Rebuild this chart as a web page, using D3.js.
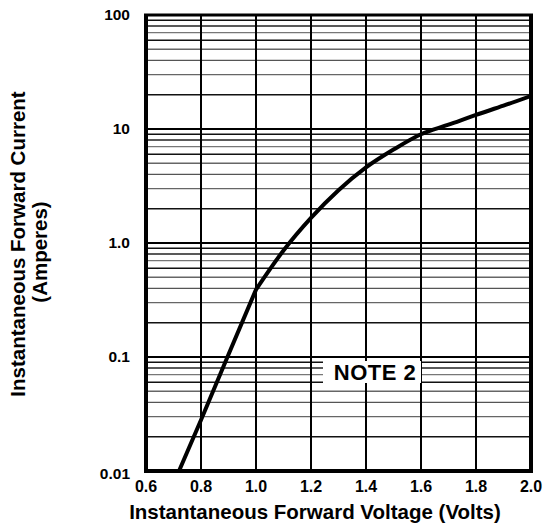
<!DOCTYPE html>
<html>
<head>
<meta charset="utf-8">
<script src="https://cdn.jsdelivr.net/npm/d3@7"></script>
<style>
  body { margin: 0; background: #fff; }
  text { font-family: "Liberation Sans", Arial, sans-serif; font-weight: bold; fill: #000; }
</style>
</head>
<body>
<div id="chart"></div>
<script>
// forward voltage (V) vs forward current (A)
var voltage = [0.72, 0.8, 0.9, 1.0, 1.1, 1.2, 1.3, 1.4, 1.5, 1.6, 1.7, 1.8, 1.9, 2.0];
var current = [0.01, 0.028, 0.105, 0.39, 0.86, 1.66, 2.9, 4.6, 6.6, 9.0, 10.9, 13.3, 16.0, 19.5];

var xTicks = [0.6, 0.8, 1.0, 1.2, 1.4, 1.6, 1.8, 2.0];
var yTicks = [0.01, 0.1, 1, 10, 100];
var yTickLabels = ["0.01", "0.1", "1.0", "10", "100"];
var minorMult = [2, 3, 4, 5, 6, 7, 8, 9];
var minorColor = ["#111", "#666", "#555", "#666", "#111", "#777", "#222", "#111"];

var width = 545,
    height = 527;

var svg = d3.select("#chart").append("svg")
    .attr("width", width)
    .attr("height", height);

var x = d3.scaleLinear().domain([0.6, 2.0]).range([146, 531]);
var y = d3.scaleLog().domain([0.01, 100]).range([471, 15]);

var grid = svg.append("g");

// minor horizontal lines
yTicks.slice(0, 4).forEach(function(d){
  minorMult.forEach(function(m, i){
    grid.append("line")
        .attr("x1", x(0.6)).attr("x2", x(2.0))
        .attr("y1", y(d * m)).attr("y2", y(d * m))
        .attr("stroke", minorColor[i])
        .attr("stroke-width", 1.4);
  });
});

// decade lines
grid.selectAll(".decade").data(yTicks.slice(1, 4)).enter().append("line")
    .attr("x1", x(0.6)).attr("x2", x(2.0))
    .attr("y1", function(d){ return y(d); })
    .attr("y2", function(d){ return y(d); })
    .attr("stroke", "#000")
    .attr("stroke-width", 2);

// vertical lines
grid.selectAll(".vline").data(xTicks.slice(1, -1)).enter().append("line")
    .attr("x1", function(d){ return x(d); })
    .attr("x2", function(d){ return x(d); })
    .attr("y1", y(100)).attr("y2", y(0.01))
    .attr("stroke", "#000")
    .attr("stroke-width", 2);

// note box
svg.append("rect")
    .attr("x", 323).attr("y", 361)
    .attr("width", 98).attr("height", 22)
    .attr("fill", "#fff");
svg.append("text")
    .attr("x", 375).attr("y", 380)
    .attr("text-anchor", "middle")
    .style("font-size", "22px")
    .style("letter-spacing", "0.5px")
    .text("NOTE 2");

// curve: straight below 1.0 V, bending above
svg.append("defs").append("clipPath").attr("id", "clip")
  .append("rect")
    .attr("x", x(0.6)).attr("y", y(100))
    .attr("width", x(2.0) - x(0.6)).attr("height", y(0.01) - y(100));

var pts = voltage.map(function(v, i){ return [x(v), y(current[i])]; });
var knee = voltage.indexOf(1.0);

var lower = d3.line();
var upper = d3.line().curve(d3.curveMonotoneX);

var curve = svg.append("g").attr("clip-path", "url(#clip)");
curve.append("path")
    .attr("d", lower(pts.slice(0, knee + 1)) + upper(pts.slice(knee)).replace(/^M[^LC]*/, ""))
    .attr("fill", "none")
    .attr("stroke", "#000")
    .attr("stroke-width", 4)
    .attr("stroke-linejoin", "round");

// frame
svg.append("line").attr("x1", x(0.6) - 2).attr("x2", x(2.0) + 2)
    .attr("y1", y(100)).attr("y2", y(100))
    .attr("stroke", "#000").attr("stroke-width", 3);
svg.append("line").attr("x1", x(0.6) - 2).attr("x2", x(2.0) + 2)
    .attr("y1", y(0.01)).attr("y2", y(0.01))
    .attr("stroke", "#000").attr("stroke-width", 4);
svg.append("line").attr("x1", x(0.6)).attr("x2", x(0.6))
    .attr("y1", y(100) - 1).attr("y2", y(0.01) + 2)
    .attr("stroke", "#000").attr("stroke-width", 4);
svg.append("line").attr("x1", x(2.0)).attr("x2", x(2.0))
    .attr("y1", y(100) - 1).attr("y2", y(0.01) + 2)
    .attr("stroke", "#000").attr("stroke-width", 4);

// x tick labels
svg.selectAll(".xt").data(xTicks).enter().append("text")
    .attr("x", function(d){ return x(d); })
    .attr("y", 492)
    .attr("text-anchor", "middle")
    .style("font-size", "16px")
    .text(function(d){ return d.toFixed(1); });

// y tick labels
svg.selectAll(".yt").data(yTicks).enter().append("text")
    .attr("x", 130)
    .attr("y", function(d, i){ return i == 0 ? 479 : y(d) + 5; })
    .attr("text-anchor", "end")
    .style("font-size", "15.5px")
    .text(function(d, i){ return yTickLabels[i]; });

// axis titles
svg.append("text")
    .attr("x", 315).attr("y", 519)
    .attr("text-anchor", "middle")
    .style("font-size", "20.5px")
    .text("Instantaneous Forward Voltage (Volts)");

svg.append("text")
    .attr("transform", "translate(25,244) rotate(-90)")
    .attr("text-anchor", "middle")
    .style("font-size", "20.5px")
    .text("Instantaneous Forward Current");
svg.append("text")
    .attr("transform", "translate(47,252) rotate(-90)")
    .attr("text-anchor", "middle")
    .style("font-size", "20.5px")
    .text("(Amperes)");
</script>
</body>
</html>
